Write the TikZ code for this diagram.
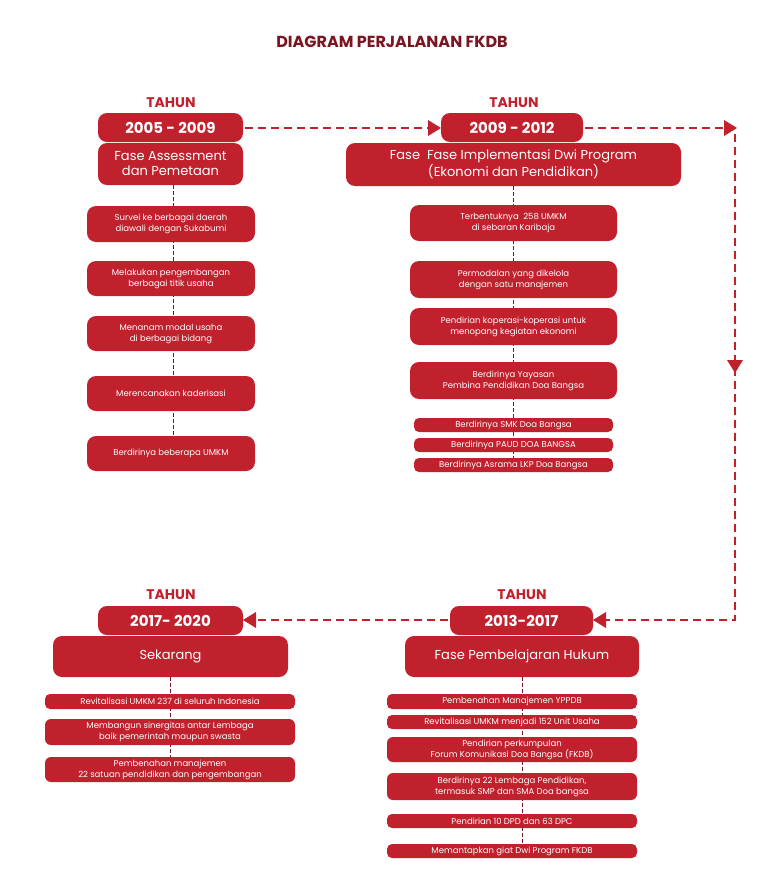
\documentclass[tikz,border=0pt]{standalone}
\usepackage{fontspec}
\setmainfont{Poppins}
\usetikzlibrary{arrows.meta}
\definecolor{fred}{HTML}{C1202D}
\definecolor{fdark}{HTML}{7A1522}
\begin{document}
\begin{tikzpicture}[x=1pt,y=-1pt,
  bx/.style={fill=fred,rounded corners=9pt},
  wt/.style={text=white,align=center,inner sep=0pt},
  flow/.style={draw=fred,line width=2.6pt,dash pattern=on 8pt off 5pt},
  tip/.style={fill=fred},
  link/.style={draw=fdark,line width=0.9pt,dash pattern=on 4pt off 2pt}]
\useasboundingbox (0,0) rectangle (781,889);
\node[text=fdark,font=\bfseries\fontsize{16}{18}\selectfont] (title) at (392,42) {DIAGRAM PERJALANAN FKDB};
% connectors
\coordinate (c1t) at (173,185); \coordinate (c1b) at (173,455);
\draw[link] (c1t) -- (c1b);
\coordinate (c2t) at (513,186); \coordinate (c2b) at (513,465);
\draw[link] (c2t) -- (c2b);
\coordinate (c3t) at (522,677); \coordinate (c3b) at (522,855);
\draw[link] (c3t) -- (c3b);
\coordinate (c4t) at (170,677); \coordinate (c4b) at (170,770);
\draw[link] (c4t) -- (c4b);
% flow lines
\coordinate (r1) at (735,128); \coordinate (r2) at (735,620);
\draw[flow] (245,128) -- (430,128);
\draw[flow] (585,128) -- (r1) -- (r2) -- (605,620);
\draw[flow] (448,620) -- (255,620);
\fill[tip] (441,128) -- (428,120) -- (428,136) -- cycle;
\fill[tip] (737,128) -- (724,120) -- (724,136) -- cycle;
\fill[tip] (735,373) -- (727,360) -- (743,360) -- cycle;
\fill[tip] (593,620) -- (606,612) -- (606,628) -- cycle;
\fill[tip] (243,620) -- (256,612) -- (256,628) -- cycle;
% headers
\foreach \n/\x/\y in {t1/171/103,t2/514/103,t3/522/595,t4/171/595}
  \node[text=fred,font=\bfseries\fontsize{14}{16}\selectfont] (\n) at (\x,\y) {TAHUN};
\newcommand{\yearbox}[6]{\fill[bx] (#2,#3) rectangle (#4,#5);
  \node[wt,font=\bfseries\fontsize{15}{17}\selectfont] (#1) at ({(#2+#4)/2},{(#3+#5)/2}) {#6};}
\yearbox{y1}{98}{113}{243}{142}{2005 - 2009}
\yearbox{y2}{441}{113}{583}{142}{2009 - 2012}
\yearbox{y3}{450}{606}{593}{635}{2013-2017}
\yearbox{y4}{98}{606}{243}{635}{2017- 2020}
\newcommand{\fasebox}[6]{\fill[bx] (#2,#3) rectangle (#4,#5);
  \node[wt,font=\fontsize{13}{15}\selectfont] (#1) at ({(#2+#4)/2},{(#3+#5)/2}) {#6};}
\fasebox{f1}{98}{143}{243}{185}{Fase Assessment\\dan Pemetaan}
\fasebox{f2}{346}{143}{681}{186}{Fase\ \ Fase Implementasi Dwi Program\\(Ekonomi dan Pendidikan)}
\fasebox{f3}{405}{636}{639}{677}{Fase Pembelajaran Hukum}
\fasebox{f4}{53}{636}{288}{677}{Sekarang}
\newcommand{\stepitem}[7][9pt]{\fill[fred,rounded corners=#1] (#3,#4) rectangle (#5,#6);
  \node[wt,font=\fontsize{8.5}{11}\selectfont] (#2) at ({(#3+#5)/2},{(#4+#6)/2}) {#7};}
\stepitem{a1}{87}{206}{255}{242}{Survei ke berbagai daerah\\diawali dengan Sukabumi}
\stepitem{a2}{87}{261}{255}{296}{Melakukan pengembangan\\berbagai titik usaha}
\stepitem{a3}{87}{316}{255}{351}{Menanam modal usaha\\di berbagai bidang}
\stepitem{a4}{87}{376}{255}{411}{Merencanakan kaderisasi}
\stepitem{a5}{87}{436}{255}{471}{Berdirinya beberapa UMKM}
\stepitem{b1}{410}{205}{617}{241}{Terbentuknya\ \ 258 UMKM\\di sebaran Karibaja}
\stepitem{b2}{410}{261}{617}{298}{Permodalan yang dikelola\\dengan satu manajemen}
\stepitem{b3}{410}{308}{617}{345}{Pendirian koperasi-koperasi untuk\\menopang kegiatan ekonomi}
\stepitem{b4}{410}{362}{617}{399}{Berdirinya Yayasan\\Pembina Pendidikan Doa Bangsa}
\stepitem[5pt]{b5}{414}{418}{613}{432}{Berdirinya SMK Doa Bangsa}
\stepitem[5pt]{b6}{414}{438}{613}{452}{Berdirinya PAUD DOA BANGSA}
\stepitem[5pt]{b7}{414}{458}{613}{472}{Berdirinya Asrama LKP Doa Bangsa}
\stepitem[5pt]{c1}{387}{694}{637}{709}{Pembenahan Manajemen YPPDB}
\stepitem[5pt]{c2}{387}{715}{637}{729}{Revitalisasi UMKM menjadi 152 Unit Usaha}
\stepitem[6pt]{c3}{387}{737}{637}{762}{Pendirian perkumpulan\\Forum Komunikasi Doa Bangsa (FKDB)}
\stepitem[6pt]{c4}{387}{773}{637}{800}{Berdirinya 22 Lembaga Pendidikan,\\termasuk SMP dan SMA Doa bangsa}
\stepitem[5pt]{c5}{387}{814}{637}{828}{Pendirian 10 DPD dan 63 DPC}
\stepitem[5pt]{c6}{387}{844}{637}{858}{Memantapkan giat Dwi Program FKDB}
\stepitem[5pt]{d1}{45}{694}{295}{709}{Revitalisasi UMKM 237 di seluruh Indonesia}
\stepitem[6pt]{d2}{45}{719}{295}{745}{Membangun sinergitas antar Lembaga\\baik pemerintah maupun swasta}
\stepitem[6pt]{d3}{45}{757}{295}{782}{Pembenahan manajemen\\22 satuan pendidikan dan pengembangan}
\end{tikzpicture}
\end{document}
